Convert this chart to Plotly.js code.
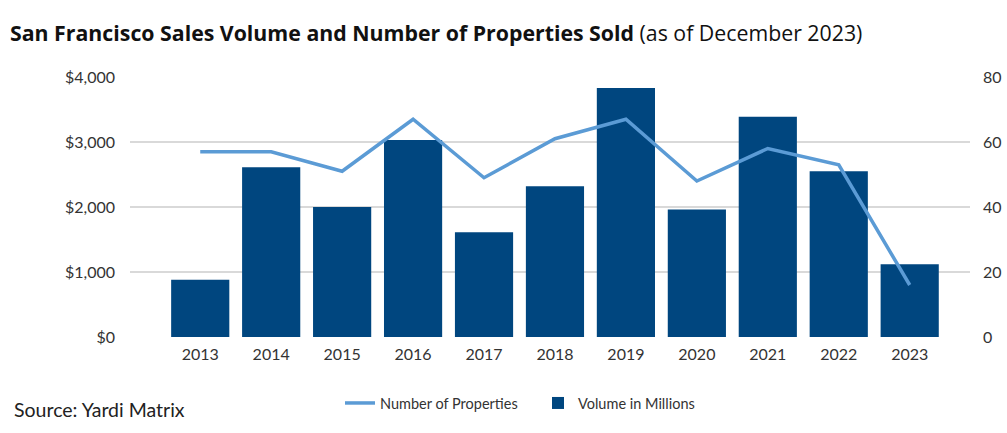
<!DOCTYPE html>
<html><head><meta charset="utf-8">
<script src="https://cdn.plot.ly/plotly-3.0.1.min.js"></script>
<style>html,body{margin:0;padding:0;background:#fff}#c{width:1007px;height:433px}</style>
</head><body><div id="c"></div>
<script>
const years = ['2013','2014','2015','2016','2017','2018','2019','2020','2021','2022','2023'];
const volumeMillions = [880, 2610, 2000, 3030, 1610, 2320, 3830, 1960, 3390, 2550, 1120];
const numProperties = [57, 57, 51, 67, 49, 61, 67, 48, 58, 53, 16];
const leftTicks = [0, 1000, 2000, 3000, 4000];
const leftTickText = ['$0', '$1,000', '$2,000', '$3,000', '$4,000'];
const rightTicks = [0, 20, 40, 60, 80];

const font = 'Lato, "Open Sans", sans-serif';
const traces = [
  {type:'scatter', mode:'lines', name:'Number of Properties', x:years, y:numProperties, yaxis:'y2',
   line:{color:'#5B9BD5', width:3.5}},
  {type:'bar', name:'Volume in Millions', x:years, y:volumeMillions,
   marker:{color:'#00467F'}, width:0.82}
];
const layout = {
  width:1007, height:433,
  margin:{l:130, r:37, t:77, b:96},
  paper_bgcolor:'#fff', plot_bgcolor:'#fff',
  font:{family:font, size:16, color:'#333'},
  showlegend:true,
  legend:{orientation:'h', x:0.25, y:-0.254, xanchor:'left', yanchor:'middle', font:{size:14.5, color:'#333'}, traceorder:'normal', entrywidth:153, entrywidthmode:'pixels'},
  xaxis:{type:'category', range:[-0.99, 10.85], showgrid:false, zeroline:false, showline:false, ticks:'', tickfont:{size:16}, ticklabelstandoff:6},
  yaxis:{range:[0,4000], tickvals:leftTicks, ticktext:leftTickText, showgrid:true, gridcolor:'#d9d9d9', gridwidth:1.5, zeroline:false, showline:false, ticks:'', tickfont:{size:16}, ticklabelstandoff:14},
  yaxis2:{range:[0,80], tickvals:rightTicks, overlaying:'y', side:'right', showgrid:false, zeroline:false, showline:false, ticks:'', tickfont:{size:16}, ticklabelstandoff:12},
  annotations:[
    {xref:'paper', yref:'paper', x:-0.1452, y:1.0, yshift:45, xanchor:'left', yanchor:'middle', showarrow:false,
     text:'<b>San Francisco Sales Volume and Number of Properties Sold</b> (as of December 2023)', font:{size:21.3, color:'#111', family:'"Open Sans", sans-serif'}},
    {xref:'paper', yref:'paper', x:-0.1405, y:0, yshift:-72, xanchor:'left', yanchor:'middle', showarrow:false,
     text:'Source: Yardi Matrix', font:{size:19.5, color:'#222', family:font}}
  ]
};
Plotly.newPlot('c', traces, layout, {displayModeBar:false, staticPlot:true});
</script></body></html>
